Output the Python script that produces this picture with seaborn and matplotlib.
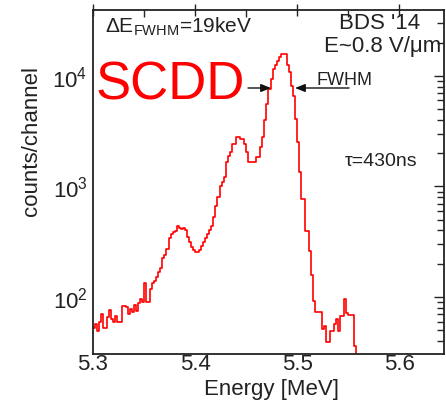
import numpy as np
import pandas as pd
import matplotlib
matplotlib.use("Agg")
import matplotlib.pyplot as plt
import matplotlib.patches as mpatches
import seaborn as sns
from matplotlib.ticker import LogLocator, MultipleLocator, FixedLocator

# ---- data ----
bin_start = 5.300      # MeV
bin_width = 0.002      # MeV
counts = [52, 57, 49, 59, 70, 52, 52, 66, 76, 63,
          59, 67, 59, 59, 83, 83, 81, 70, 78, 73,
          85, 75, 88, 96, 90, 134, 90, 90, 118, 134,
          140, 152, 170, 183, 225, 240, 270, 340, 370, 390,
          396, 440, 420, 412, 420, 400, 350, 315, 283, 266,
          255, 255, 266, 290, 315, 340, 370, 400, 440, 530,
          667, 804, 1000, 1100, 1220, 1670, 1890, 2050, 2425, 2425,
          2800, 2800, 2690, 2690, 2425, 2050, 1670, 1670, 1670, 1670,
          1850, 1850, 2275, 2800, 4000, 5580, 7630, 9390, 11560, 12500,
          13670, 14870, 15820, 15820, 15820, 12590, 10870, 8130, 6590, 4080,
          2530, 1350, 771, 771, 396, 396, 261, 158, 92, 73,
          73, 73, 51, 55, 39, 39, 49, 49, 57, 63,
          49, 67, 67, 96, 72, 69, 69, 69, 36, 10]
x_ticks = [5.3, 5.4, 5.5, 5.6]
x_tick_labels = ["5.3", "5.4", "5.5", "5.6"]
y_ticks = [1e2, 1e3, 1e4]
y_tick_labels = [r"$10^2$", r"$10^3$", r"$10^4$"]

n_bins = len(counts)
bin_stop = bin_start + bin_width * n_bins
centers = bin_start + bin_width * (np.arange(n_bins) + 0.5)
df = pd.DataFrame({"energy": centers, "counts": counts})

# ---- style ----
sns.set_style("white")
plt.rcParams["font.family"] = ["Liberation Sans", "DejaVu Sans"]
plt.rcParams["mathtext.fontset"] = "custom"
plt.rcParams["mathtext.rm"] = "Liberation Sans"
plt.rcParams["mathtext.it"] = "Liberation Sans:italic"
plt.rcParams["mathtext.bf"] = "Liberation Sans:bold"

fig = plt.figure(figsize=(4.46, 4.02), dpi=100)
ax = fig.add_axes([93 / 446, 1 - 355 / 402, (444 - 93) / 446, (355 - 11) / 402])

sns.histplot(data=df, x="energy", weights="counts", bins=n_bins,
             binrange=(bin_start, bin_stop),
             element="step", fill=False, color="#ff0000", linewidth=1.2, ax=ax)

ax.set_yscale("log")
ax.set_xlim(5.3, 5.644)
ax.set_ylim(30.5, 39500)

ax.xaxis.set_major_locator(FixedLocator(x_ticks))
ax.set_xticklabels(x_tick_labels)
ax.xaxis.set_minor_locator(MultipleLocator(0.05))
ax.yaxis.set_major_locator(FixedLocator(y_ticks))
ax.set_yticklabels(y_tick_labels)
ax.yaxis.set_minor_locator(LogLocator(base=10, subs=np.arange(2, 10)))
ax.yaxis.set_minor_formatter(plt.NullFormatter())

ax.tick_params(axis="both", which="major", direction="inout", length=9, width=1.0,
               labelsize=16, colors="#222222", top=True, right=True)
ax.tick_params(axis="x", which="major", pad=-5)
ax.tick_params(axis="both", which="minor", direction="in", length=5, width=1.0,
               top=True, right=True)
ax.tick_params(axis="y", which="major", direction="in", length=7, pad=4)
for s in ax.spines.values():
    s.set_color("#222222")
    s.set_linewidth(1.3)

ax.set_xlabel("")
ax.set_ylabel("")
fig.text(272 / 446, 1 - 395 / 402, "Energy [MeV]", fontsize=16, color="#222222",
         ha="center", va="baseline")
fig.text(32 / 446, 1 - 141 / 402, "counts/channel", rotation=90, fontsize=16,
         color="#222222", ha="center", va="center")

# ---- annotations ----
fig.text(105 / 446, 1 - 33 / 402, r"$\Delta\mathrm{E}_{\mathrm{FWHM}}$=19keV",
         fontsize=15, color="#222222", ha="left", va="baseline")
fig.text(380 / 446, 1 - 29 / 402, "BDS '14", fontsize=16, color="#222222",
         ha="center", va="baseline")
fig.text(383 / 446, 1 - 52 / 402, "E~0.8 V/\u03bcm", fontsize=16, color="#222222",
         ha="center", va="baseline")
fig.text(96 / 446, 1 - 100 / 402, "SCDD", fontsize=38, color="#ff0000",
         ha="left", va="baseline")
fig.text(316 / 446, 1 - 85 / 402, "FWHM", fontsize=13, color="#222222",
         ha="left", va="baseline")
fig.text(345 / 446, 1 - 166 / 402, "\u03c4=430ns", fontsize=14, color="#222222",
         ha="left", va="baseline")


def fig_xy(px, py):
    return (px / 446, 1 - py / 402)


for start, end in [((248, 89), (271, 89)), ((349, 89), (295, 89))]:
    fig.add_artist(mpatches.FancyArrowPatch(
        fig_xy(*start), fig_xy(*end), transform=fig.transFigure,
        arrowstyle="-|>,head_length=4,head_width=1.6", color="#111111", lw=1.0,
        mutation_scale=1.5, shrinkA=0, shrinkB=0))

fig.savefig("out.png", dpi=100, facecolor="white")
